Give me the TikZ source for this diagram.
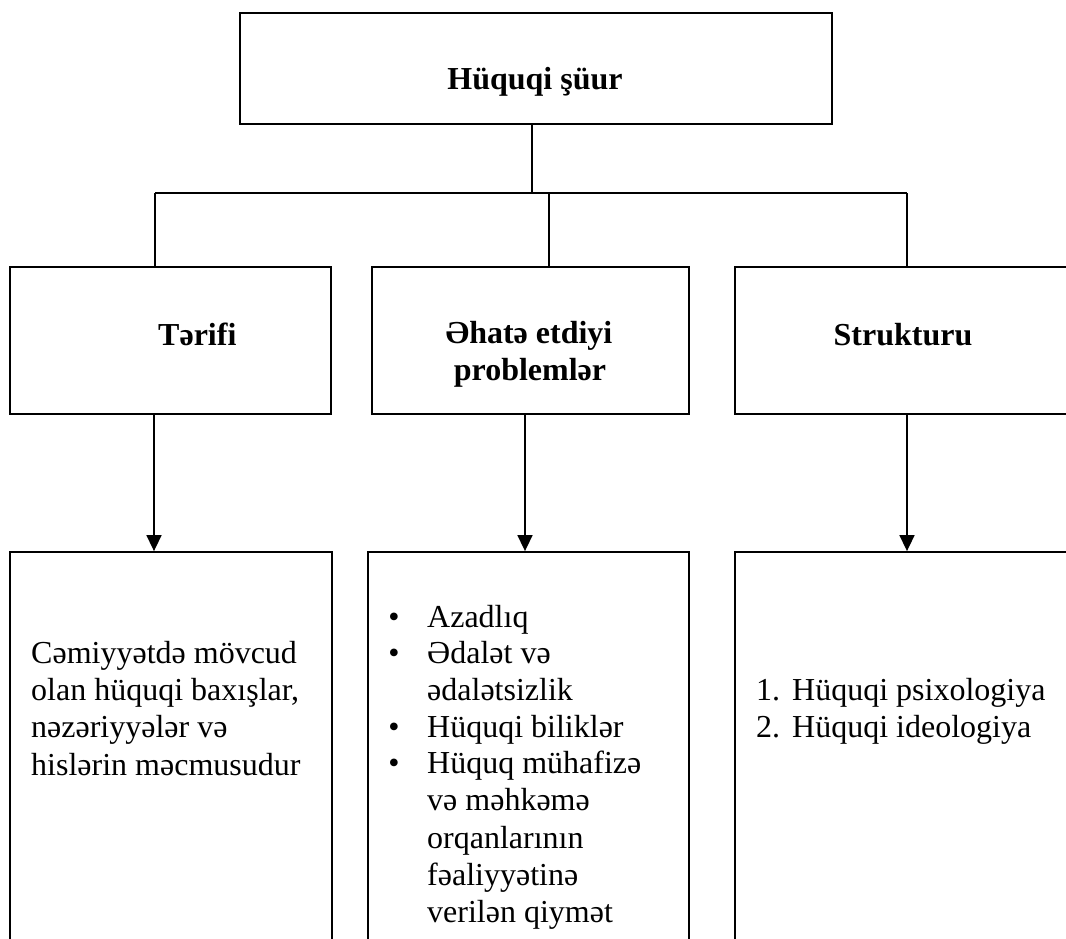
\documentclass[tikz,border=0pt]{standalone}
\usepackage{fontspec}
\setmainfont{Liberation Serif}
\usetikzlibrary{arrows.meta}
\begin{document}
\begin{tikzpicture}[x=1pt,y=-1pt,
  box/.style={draw=black,line width=1.8pt,inner sep=0pt},
  conn/.style={draw=black,line width=1.6pt},
  arr/.style={conn,-{Triangle[width=15pt,length=16pt]}},
  txt/.style={inner sep=0pt,font=\fontsize{32}{37}\selectfont},
  head/.style={txt,font=\fontsize{32}{37}\selectfont\bfseries,anchor=base},
  line/.style={txt,anchor=base west}]
\useasboundingbox (0,0) rectangle (1066,939);
\clip (0,0) rectangle (1066,939);
% boxes
\node[box,minimum width=592pt,minimum height=111pt] (top) at (536,68.5) {};
\node[box,minimum width=321pt,minimum height=147pt] (b1) at (170.5,340.5) {};
\node[box,minimum width=317pt,minimum height=147pt] (b2) at (530.5,340.5) {};
\node[box,minimum width=345pt,minimum height=147pt] (b3) at (907.5,340.5) {};
\node[box,minimum width=322pt,minimum height=420pt] (c1) at (171,762) {};
\node[box,minimum width=321pt,minimum height=420pt] (c2) at (528.5,762) {};
\node[box,minimum width=345pt,minimum height=420pt] (c3) at (907.5,762) {};
% headings
\node[head] (h0) at (535,90) {Hüquqi şüur};
\node[txt,font=\fontsize{32}{37}\selectfont\bfseries,anchor=base west] (h1) at (158,345) {Tərifi};
\node[head] (h2a) at (529,343) {Əhatə etdiyi};
\node[head] (h2b) at (530,380) {problemlər};
\node[head] (h3) at (903,345) {Strukturu};
% connectors
\coordinate (j) at (532,193);
\coordinate (hl) at (155,193);
\coordinate (hm) at (549,193);
\coordinate (hr) at (907,193);
\draw[conn] (top.south -| j) -- (j);
\draw[conn] (hl) -- (hr);
\draw[conn] (hl) -- (b1.north -| hl);
\draw[conn] (hm) -- (b2.north -| hm);
\draw[conn] (hr) -- (b3.north -| hr);
\coordinate (a1) at (154,0);
\coordinate (a2) at (525,0);
\coordinate (a3) at (907,0);
\draw[arr] (b1.south -| a1) -- (c1.north -| a1);
\draw[arr] (b2.south -| a2) -- (c2.north -| a2);
\draw[arr] (b3.south -| a3) -- (c3.north -| a3);
% left text
\node[line] (l1) at (31,663) {Cəmiyyətdə mövcud};
\node[line] (l2) at (31,700) {olan hüquqi baxışlar,};
\node[line] (l3) at (31,737) {nəzəriyyələr və};
\node[line] (l4) at (31,775) {hislərin məcmusudur};
% middle text
\foreach \y in {627,663,737}{\node[txt,anchor=base] at (394,\y) {•};}
\node[txt,anchor=base] (bl4) at (394,773) {•};
\node[line] (m1) at (427,627) {Azadlıq};
\node[line] (m2) at (427,663) {Ədalət və};
\node[line] (m3) at (427,700) {ədalətsizlik};
\node[line] (m4) at (427,737) {Hüquqi biliklər};
\node[line] (m5) at (427,773) {Hüquq mühafizə};
\node[line] (m6) at (427,810) {və məhkəmə};
\node[line] (m7) at (427,848) {orqanlarının};
\node[line] (m8) at (427,885) {fəaliyyətinə};
\node[line] (m9) at (427,922) {verilən qiymət};
% right text
\node[line] (n1) at (756,700) {1.};
\node[line] (r1) at (792,700) {Hüquqi psixologiya};
\node[line] (n2) at (756,737) {2.};
\node[line] (r2) at (792,737) {Hüquqi ideologiya};
\end{tikzpicture}
\end{document}
